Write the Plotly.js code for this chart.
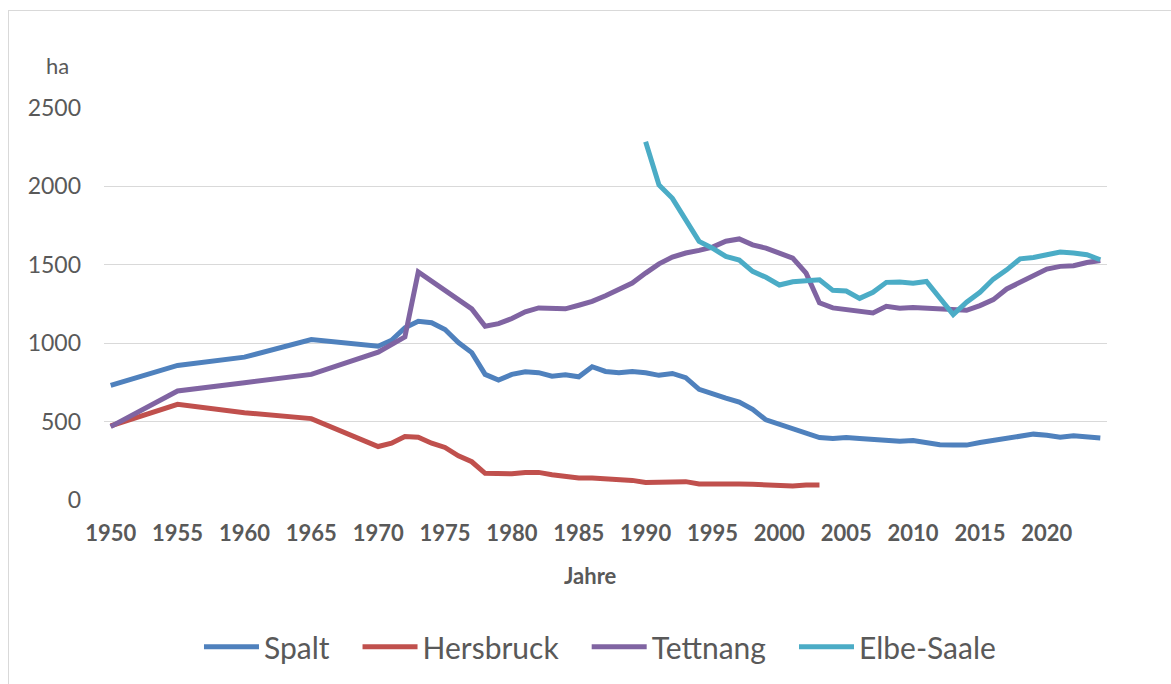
<!DOCTYPE html>
<html>
<head>
<meta charset="utf-8">
<script src="https://cdn.plot.ly/plotly-3.0.1.min.js"></script>
<style>
html,body{margin:0;padding:0;background:#fff;}
#chart{width:1171px;height:684px;position:absolute;left:0;top:0;}
#frame{position:absolute;left:8px;top:10px;width:2000px;height:2000px;border-left:1px solid #d9d9d9;border-top:1px solid #d9d9d9;pointer-events:none;}
</style>
</head>
<body>
<div id="chart"></div>
<div id="frame"></div>
<script>
// Years
const yearsMain = [1950,1955,1960,1965,1970,1971,1972,1973,1974,1975,1976,1977,1978,1979,1980,1981,1982,1983,1984,1985,1986,1987,1988,1989,1990,1991,1992,1993,1994,1995,1996,1997,1998,1999,2000,2001,2002,2003,2004,2005,2006,2007,2008,2009,2010,2011,2012,2013,2014,2015,2016,2017,2018,2019,2020,2021,2022,2023,2024];
const yearsHersbruck = [1950,1955,1960,1965,1970,1971,1972,1973,1974,1975,1976,1977,1978,1979,1980,1981,1982,1983,1984,1985,1986,1987,1988,1989,1990,1991,1992,1993,1994,1995,1996,1997,1998,1999,2000,2001,2002,2003];
const yearsElbeSaale = [1990,1991,1992,1993,1994,1995,1996,1997,1998,1999,2000,2001,2002,2003,2004,2005,2006,2007,2008,2009,2010,2011,2012,2013,2014,2015,2016,2017,2018,2019,2020,2021,2022,2023,2024];

// Values (ha)
const spalt = [731,858,911,1023,981,1019,1098,1140,1131,1087,1004,940,801,765,801,818,812,790,799,786,850,820,812,820,812,795,807,780,706,674,650,625,578,511,483,462,430,398,392,398,392,388,386,375,379,367,352,350,350,367,379,396,409,420,413,400,409,405,396];
const hersbruck = [472,610,557,519,341,362,405,400,362,335,282,244,170,167,167,176,176,161,148,140,140,136,131,125,112,114,112,117,102,104,104,102,100,95,90,90,95,95];
const tettnang = [468,695,748,801,943,992,1040,1454,1395,1341,1273,1219,1108,1125,1157,1200,1225,1219,1219,1242,1267,1303,1341,1384,1447,1506,1549,1575,1592,1613,1650,1665,1627,1606,1575,1543,1447,1257,1225,1214,1202,1193,1235,1223,1227,1223,1214,1208,1210,1240,1278,1346,1388,1430,1473,1490,1494,1515,1528];
const elbeSaale = [2285,2009,1924,1786,1649,1606,1553,1530,1458,1420,1371,1392,1396,1405,1337,1333,1286,1325,1388,1390,1382,1394,1288,1182,1261,1325,1409,1468,1538,1547,1564,1581,1575,1564,1532];

const seriesNames = ['Spalt','Hersbruck','Tettnang','Elbe-Saale'];
const seriesColors = ['#4F81BD','#C0504D','#8064A2','#4BACC6'];
const xTickVals = [1950,1955,1960,1965,1970,1975,1980,1985,1990,1995,2000,2005,2010,2015,2020];
const yTickVals = [0,500,1000,1500,2000,2500];

const FONT = 'Lato, "Open Sans", sans-serif';
const GREY = '#595959';
const PAD = '\u00a0\u00a0\u00a0';

const xs = [yearsMain, yearsHersbruck, yearsMain, yearsElbeSaale];
const ys = [spalt, hersbruck, tettnang, elbeSaale];

const traces = seriesNames.map((n,i)=>({
  type:'scatter', mode:'lines', name: i < seriesNames.length-1 ? n + PAD : n, x:xs[i], y:ys[i],
  line:{color:seriesColors[i], width:5, shape:'linear'},
  hoverinfo:'x+y+name'
}));

const layout = {
  width:1171, height:684,
  margin:{l:104, r:64, t:108, b:183},
  paper_bgcolor:'rgba(0,0,0,0)', plot_bgcolor:'rgba(0,0,0,0)',
  font:{family:FONT, color:GREY},
  xaxis:{
    range:[1949.5,2024.5], tickmode:'array', tickvals:xTickVals,
    ticktext:xTickVals.map(String),
    tickfont:{family:FONT, size:22, color:GREY, weight:'bold'},
    showgrid:false, zeroline:false, showline:false, ticks:'',
    ticklabelstandoff:18
  },
  yaxis:{
    range:[0,2500], tickmode:'array', tickvals:yTickVals,
    tickfont:{family:FONT, size:23, color:GREY},
    showgrid:true, gridcolor:'#d9d9d9', gridwidth:1.3,
    zeroline:false, showline:false, ticks:'',
    ticklabelstandoff:22
  },
  showlegend:true,
  legend:{
    orientation:'h', x:0.4945, xanchor:'center', y:-0.371, yanchor:'middle',
    font:{family:FONT, size:30, color:GREY},
    itemwidth:55, tracegroupgap:0, bgcolor:'rgba(0,0,0,0)'
  },
  annotations:[
    {text:'ha', xref:'paper', yref:'paper', x:(57-104)/1003, y:(501-65)/393, xanchor:'center', yanchor:'middle', showarrow:false, font:{family:FONT, size:22, color:GREY}},
    {text:'<b>Jahre</b>', xref:'paper', yref:'paper', x:(590-104)/1003, y:(501-577)/393, xanchor:'center', yanchor:'middle', showarrow:false, font:{family:FONT, size:22, color:GREY}}
  ]
};

Plotly.newPlot('chart', traces, layout, {displayModeBar:false, staticPlot:true});
</script>
</body>
</html>
